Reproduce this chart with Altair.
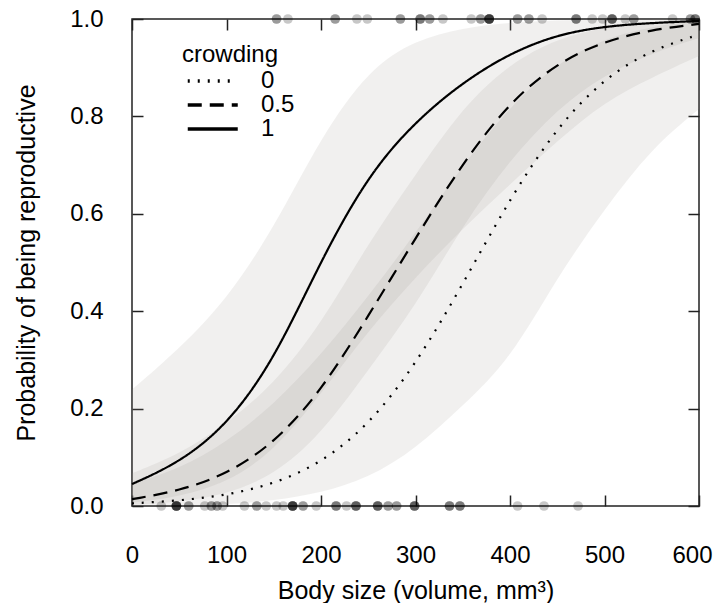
import altair as alt
import pandas as pd

# ---- curve values (x = body size) ----
x_grid = [0, 50, 100, 150, 200, 250, 300, 350, 400, 450, 500, 550, 600]

fit_c0 = [0.0054, 0.011, 0.022, 0.045, 0.088, 0.165, 0.289, 0.455, 0.632, 0.779, 0.879, 0.937, 0.968]
lo_c0 = [0.0003, 0.001, 0.0034, 0.0106, 0.027, 0.057, 0.117, 0.206, 0.30, 0.47, 0.61, 0.735, 0.815]
hi_c0 = [0.046, 0.076, 0.131, 0.208, 0.31, 0.43, 0.56, 0.70, 0.82, 0.91, 0.96, 0.985, 0.996]

fit_c05 = [0.014, 0.031, 0.065, 0.128, 0.235, 0.39, 0.55, 0.705, 0.83, 0.91, 0.955, 0.978, 0.99]
lo_c05 = [0.0024, 0.0079, 0.024, 0.063, 0.147, 0.28, 0.41, 0.577, 0.711, 0.816, 0.886, 0.93, 0.961]
hi_c05 = [0.067, 0.106, 0.168, 0.25, 0.373, 0.54, 0.68, 0.819, 0.909, 0.96, 0.983, 0.993, 0.9975]

fit_c1 = [0.045, 0.089, 0.165, 0.298, 0.505, 0.68, 0.79, 0.87, 0.93, 0.968, 0.985, 0.992, 0.996]
lo_c1 = [0.0067, 0.019, 0.047, 0.112, 0.23, 0.36, 0.47, 0.57, 0.66, 0.75, 0.83, 0.88, 0.924]
hi_c1 = [0.239, 0.323, 0.423, 0.57, 0.758, 0.896, 0.957, 0.982, 0.993, 0.997, 0.999, 0.9995, 0.9998]

crowding_levels = ["0", "0.5", "1"]

# ---- observations (overlapping individuals repeated) ----
sizes_reproductive = [153, 153, 165, 215, 215, 238, 249, 284, 284,
                      305, 305, 305, 315, 315, 329, 359, 369, 369,
                      378, 378, 378, 378, 378, 378, 408, 408, 420, 420, 434,
                      470, 470, 470, 487, 498, 508, 508, 508, 508, 522,
                      531, 531, 572, 591, 591, 596, 596, 596]
sizes_nonreproductive = [31, 47, 47, 47, 47, 47, 47, 60, 60, 77, 84, 84, 90, 90, 96,
                         119, 132, 132, 142, 153, 160, 170, 170, 170, 170, 170, 170,
                         181, 181, 195, 216, 216, 216, 227, 237, 237, 237, 237,
                         260, 260, 260, 260, 271, 271, 280, 280, 299, 299, 299, 299,
                         336, 336, 336, 347, 347, 347, 408, 436, 472]

x_ticks = [0, 100, 200, 300, 400, 500, 600]
y_ticks = [0.0, 0.2, 0.4, 0.6, 0.8, 1.0]

# ---- tables ----
rows = []
for lvl, fit, lo, hi in [("0", fit_c0, lo_c0, hi_c0),
                         ("0.5", fit_c05, lo_c05, hi_c05),
                         ("1", fit_c1, lo_c1, hi_c1)]:
    for xv, f, l, h in zip(x_grid, fit, lo, hi):
        rows.append({"size": xv, "crowding": lvl, "fit": f, "lo": l, "hi": h})
curves = pd.DataFrame(rows)

obs = pd.DataFrame({
    "size": sizes_reproductive + sizes_nonreproductive,
    "repro": [1] * len(sizes_reproductive) + [0] * len(sizes_nonreproductive),
})

FONT = "Liberation Sans"
INK = "#222222"

x_scale = alt.Scale(domain=[0, 600], nice=False, zero=False)
y_scale = alt.Scale(domain=[0, 1], nice=False, zero=False)

x_axis = alt.Axis(values=x_ticks, format="d", title="Body size (volume, mm³)",
                  tickSize=11, offset=-11, domain=False, grid=False,
                  tickColor=INK, tickWidth=1.5, labelPadding=37,
                  labelOffset={"expr": "datum.value == 600 ? -7 : 0"},
                  labelFontSize=24, titleFontSize=25, titleFontWeight="normal",
                  titlePadding=11, labelFlush=False, labelOverlap=False,
                  labelColor="black", titleColor="black")
y_axis = alt.Axis(values=y_ticks, format=".1f", title="Probability of being reproductive",
                  tickSize=11, offset=-11, domain=False, grid=False,
                  tickColor=INK, tickWidth=1.5, labelPadding=29,
                  labelFontSize=24, titleFontSize=25, titleFontWeight="normal",
                  titlePadding=30, labelFlush=False, labelOverlap=False,
                  labelColor="black", titleColor="black")

bands = alt.Chart(curves).mark_area(color="#9c968f", opacity=0.14, interpolate="basis").encode(
    x=alt.X("size:Q", scale=x_scale, axis=x_axis),
    y=alt.Y("lo:Q", scale=y_scale, axis=y_axis),
    y2="hi:Q",
    detail="crowding:N",
)

lines = alt.Chart(curves).mark_line(color="black", strokeWidth=2.2, interpolate="basis").encode(
    x=alt.X("size:Q", scale=x_scale, axis=x_axis),
    y=alt.Y("fit:Q", scale=y_scale, axis=y_axis),
    strokeDash=alt.StrokeDash(
        "crowding:N",
        scale=alt.Scale(domain=crowding_levels, range=[[2, 8], [14, 8], [1, 0]]),
        legend=alt.Legend(title="crowding", orient="none", legendX=50, legendY=24,
                          symbolType="M-1,0H7", symbolSize=156.25, symbolStrokeWidth=3.5,
                          symbolStrokeColor="black", symbolFillColor="transparent",
                          labelFontSize=24, titleFontSize=24, titleFontWeight="normal",
                          labelOffset=55, padding=0, titlePadding=2, rowPadding=0,
                          labelColor="black", titleColor="black"),
    ),
)

points = alt.Chart(obs).mark_circle(color="black", opacity=0.22, size=95).encode(
    x=alt.X("size:Q", scale=x_scale, axis=x_axis),
    y=alt.Y("repro:Q", scale=y_scale, axis=y_axis),
)

main = alt.layer(bands, lines, points)

frame_axes = alt.Chart(curves).mark_point(opacity=0).encode(
    x=alt.X("size:Q", scale=x_scale,
            axis=alt.Axis(orient="top", values=x_ticks, labels=False, title=None,
                          tickSize=11, offset=-11, domain=False, grid=False,
                          tickColor=INK, tickWidth=1.5)),
    y=alt.Y("fit:Q", scale=y_scale,
            axis=alt.Axis(orient="right", values=y_ticks, labels=False, title=None,
                          tickSize=11, offset=-11, domain=False, grid=False,
                          tickColor=INK, tickWidth=1.5)),
)

chart = alt.layer(main, frame_axes).resolve_scale(
    x="independent", y="independent"
).properties(
    width=567, height=487,
    autosize=alt.AutoSizeParams(type="none"),
    padding={"left": 124, "top": 11, "right": 14, "bottom": 97},
).configure(font=FONT).configure_view(stroke=INK, strokeWidth=1.5)

chart.save("out.html", embed_options={"renderer": "svg", "actions": False})
